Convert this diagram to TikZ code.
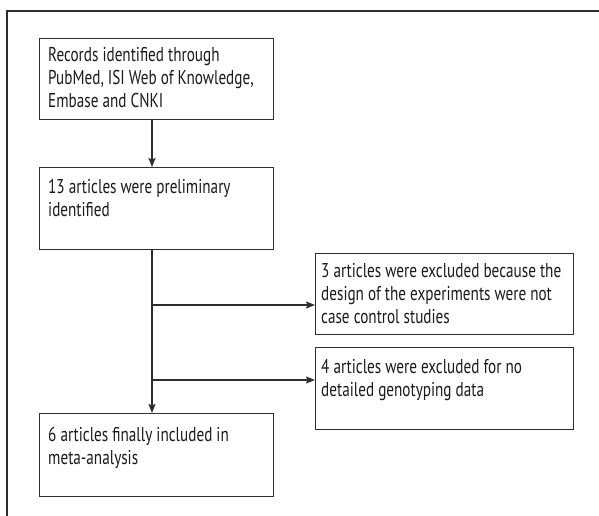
\documentclass[tikz,border=0pt]{standalone}
\usepackage{fontspec}
\setmainfont{PT Sans}[FakeStretch=0.76]
\usetikzlibrary{arrows.meta}
\definecolor{linec}{HTML}{2E2E2E}
\definecolor{txtc}{HTML}{1A1A1A}
\begin{document}
\begin{tikzpicture}[x=1pt,y=-1pt,
  boxst/.style={draw=linec,line width=1.1pt,inner sep=0pt,minimum width=#1,anchor=north west},
  txtst/.style={inner sep=0pt,anchor=north west,align=left,text=txtc,font=\fontsize{20}{23}\selectfont},
  conn/.style={draw=linec,line width=1.1pt},
  arr/.style={conn,-{Stealth[length=9pt,width=7pt,inset=1.5pt]}}]
\useasboundingbox (0,0) rectangle (599,516);
% frame
\draw[conn] (599,11) -- (7,11) -- (7,516);
% boxes
\node[boxst=234pt,minimum height=81pt] (b1) at (39,38) {};
\node[boxst=234pt,minimum height=82pt] (b2) at (39,167) {};
\node[boxst=234pt,minimum height=83pt] (b3) at (39,413) {};
\node[boxst=258pt,minimum height=81pt] (ba) at (315,253) {};
\node[boxst=258pt,minimum height=82pt] (bb) at (315,347) {};
% texts
\node[txtst] (t1) at (48,47) {Records identified through\\PubMed, ISI Web of Knowledge,\\Embase and CNKI};
\node[txtst] (t2) at (48,179) {13 articles were preliminary\\identified};
\node[txtst] (t3) at (48,427) {6 articles finally included in\\meta-analysis};
\node[txtst] (ta) at (321,263) {3 articles were excluded because the\\design of the experiments were not\\case control studies};
\node[txtst] (tb) at (321,359) {4 articles were excluded for no\\detailed genotyping data};
% connectors
\coordinate (top1) at (152,119);
\coordinate (j1) at (152,305);
\coordinate (j2) at (152,380);
\draw[arr] (top1) -- (top1 |- b2.north);
\draw[arr] (top1 |- b2.south) -- (top1 |- b3.north);
\draw[arr] (j1) -- (j1 -| ba.west);
\draw[arr] (j2) -- (j2 -| bb.west);
\end{tikzpicture}
\end{document}
